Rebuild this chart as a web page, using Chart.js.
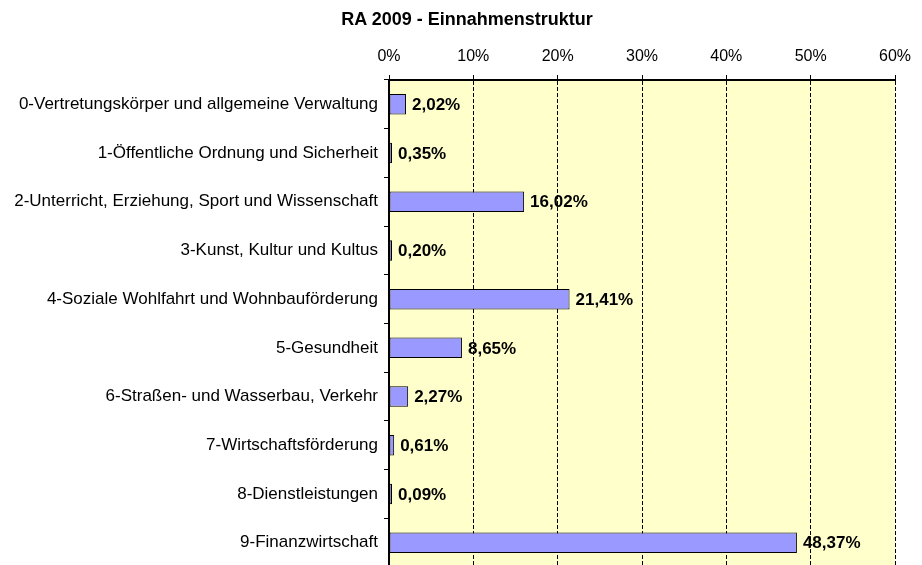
<!DOCTYPE html>
<html>
<head>
<meta charset="utf-8">
<script src="https://cdn.jsdelivr.net/npm/chart.js@4"></script>
<style>
html,body{margin:0;padding:0;background:#fff;overflow:hidden;}
#wrap{position:relative;width:922px;height:570px;}
canvas{display:block;}
#title{position:absolute;left:0;top:10px;width:934px;text-align:center;
  font:bold 18px 'Liberation Sans', Arial, sans-serif;line-height:18px;color:#000;}
</style>
</head>
<body>
<div id="wrap">
<canvas id="c" width="922" height="570"></canvas>
<div id="title"></div>
</div>
<script>
const categories = [
  "0-Vertretungskörper und allgemeine Verwaltung",
  "1-Öffentliche Ordnung und Sicherheit",
  "2-Unterricht, Erziehung, Sport und Wissenschaft",
  "3-Kunst, Kultur und Kultus",
  "4-Soziale Wohlfahrt und Wohnbauförderung",
  "5-Gesundheit",
  "6-Straßen- und Wasserbau, Verkehr",
  "7-Wirtschaftsförderung",
  "8-Dienstleistungen",
  "9-Finanzwirtschaft"
];
const shares = [2.02, 0.35, 16.02, 0.20, 21.41, 8.65, 2.27, 0.61, 0.09, 48.37];
const titleText = "RA 2009 - Einnahmenstruktur";
const axisMax = 60;
const axisStep = 10;

const FONT = "'Liberation Sans', Arial, sans-serif";
document.getElementById('title').textContent = titleText;

const plotBg = {
  id: 'plotBg',
  beforeDraw(chart) {
    const {ctx, chartArea: a} = chart;
    ctx.save();
    ctx.fillStyle = '#FFFFCC';
    ctx.fillRect(a.left, a.top, a.right - a.left, a.bottom - a.top);
    ctx.restore();
  }
};

const valueLabels = {
  id: 'valueLabels',
  afterDatasetsDraw(chart) {
    const {ctx} = chart;
    const meta = chart.getDatasetMeta(0);
    ctx.save();
    ctx.font = "bold 17px " + FONT;
    ctx.fillStyle = '#000';
    ctx.textAlign = 'left';
    ctx.textBaseline = 'middle';
    meta.data.forEach((bar, i) => {
      const v = chart.data.datasets[0].data[i];
      ctx.fillText(v.toFixed(2).replace('.', ',') + '%', bar.x + 6, bar.y + 1);
    });
    ctx.restore();
  }
};

new Chart(document.getElementById('c'), {
  type: 'bar',
  data: {
    labels: categories,
    datasets: [{
      data: shares,
      backgroundColor: '#9999FF',
      borderColor: '#000000',
      borderWidth: 1,
      borderSkipped: false,
      barPercentage: 0.42,
      categoryPercentage: 1,
      minBarLength: 3
    }]
  },
  options: {
    indexAxis: 'y',
    responsive: false,
    animation: false,
    devicePixelRatio: 1,
    layout: { padding: { left: 0, right: 27, top: 28, bottom: 3 } },
    plugins: {
      legend: { display: false },
      tooltip: { enabled: false },
      title: { display: false }
    },
    scales: {
      x: {
        position: 'top',
        min: 0,
        max: axisMax,
        afterFit(scale) { scale.height = 52; },
        ticks: {
          stepSize: axisStep,
          color: '#000',
          padding: 9,
          font: { family: FONT, size: 16 },
          callback: v => v + '%'
        },
        grid: {
          color: '#000',
          lineWidth: 1,
          tickLength: 5,
          tickColor: '#000',
          tickBorderDash: []
        },
        border: { display: true, color: '#000', width: 2, dash: [4, 2] }
      },
      y: {
        afterFit(scale) {
          scale.width = 389;
          scale.paddingTop = 0;
          scale.paddingBottom = 0;
        },
        ticks: {
          color: '#000',
          padding: 6,
          font: { family: FONT, size: 17 }
        },
        grid: {
          drawOnChartArea: false,
          drawTicks: true,
          tickLength: 5,
          tickColor: '#000',
          offset: true
        },
        border: { display: true, color: '#000', width: 2 }
      }
    }
  },
  plugins: [plotBg, valueLabels]
});
</script>
</body>
</html>
